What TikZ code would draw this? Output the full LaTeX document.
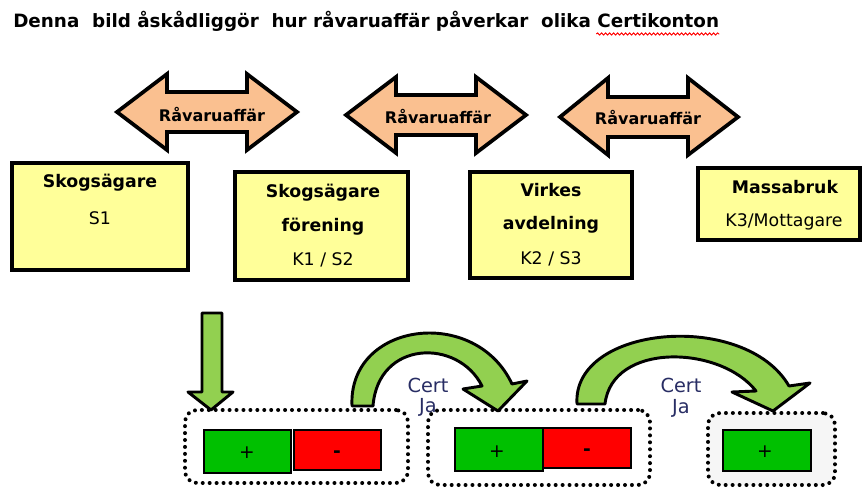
\documentclass[tikz,border=0pt]{standalone}
\usepackage{fontspec}
\setmainfont{DejaVu Sans}
\usetikzlibrary{fit,calc,decorations.pathmorphing}
\definecolor{peach}{RGB}{250,192,144}
\definecolor{boxyellow}{RGB}{255,255,153}
\definecolor{lgreen}{RGB}{146,208,80}
\definecolor{pgreen}{RGB}{0,192,0}
\definecolor{pred}{RGB}{255,0,0}
\definecolor{certcol}{RGB}{40,45,100}
\definecolor{panelgray}{RGB}{246,246,246}
\begin{document}
\begin{tikzpicture}[x=0.75pt,y=-0.75pt,
  dbl/.style={draw=black, line width=2.8pt, fill=peach, line join=miter},
  arrowtxt/.style={font=\fontsize{12}{14}\selectfont\bfseries, inner sep=0pt},
  ybox/.style={draw=black, line width=2.8pt, fill=boxyellow, inner sep=0pt},
  btxt/.style={font=\fontsize{13}{15}\selectfont\bfseries, inner sep=0pt},
  rtxt/.style={font=\fontsize{13}{15}\selectfont, inner sep=0pt},
  garrow/.style={draw=black, line width=2.2pt, fill=lgreen, line join=round},
  dotbox/.style={draw=black, line width=3pt, dash pattern=on 0pt off 5.2pt, line cap=round, rounded corners=9pt, inner sep=0pt},
  gbox/.style={draw=black, line width=1pt, fill=pgreen, inner sep=0pt},
  rbox/.style={draw=black, line width=1pt, fill=pred, inner sep=0pt},
  signtxt/.style={font=\fontsize{14}{16}\selectfont, inner sep=0pt, anchor=base},
  minustxt/.style={font=\fontsize{14}{16}\selectfont\bfseries, inner sep=0pt, anchor=base},
  certtxt/.style={font=\fontsize{14.5}{16}\selectfont, text=certcol, inner sep=0pt}
]
\useasboundingbox (0,0) rectangle (864,488);

% title
\node[anchor=base west, inner sep=0pt, font=\fontsize{13.75}{16}\selectfont\bfseries] (title) at (13,28)
  {Denna\ \ bild\ åskådliggör\ \ hur\ råvaruaffär\ påverkar\ \ olika\ Certikonton};
\draw[red, line width=0.7pt, decorate, decoration={snake, amplitude=0.8pt, segment length=3pt}]
  ($(title.base east)+(-123,6)$) -- ($(title.base east)+(0,6)$);

% double arrows
\draw[dbl, shift={(207,112)}] (-90,0) -- (-40,-38) -- (-40,-20) -- (40,-20) -- (40,-38) -- (90,0) -- (40,38) -- (40,20) -- (-40,20) -- (-40,38) -- cycle;
\node[arrowtxt] (r1) at (212,115) {Råvaruaffär};
\draw[dbl, shift={(436,115)}] (-90,0) -- (-40,-38) -- (-40,-20) -- (40,-20) -- (40,-38) -- (90,0) -- (40,38) -- (40,20) -- (-40,20) -- (-40,38) -- cycle;
\node[arrowtxt] (r2) at (438,117) {Råvaruaffär};
\draw[dbl, shift={(649,117)}] (-89,0) -- (-41,-39) -- (-41,-20) -- (39,-20) -- (39,-39) -- (89,0) -- (39,38) -- (39,20) -- (-41,20) -- (-41,38) -- cycle;
\node[arrowtxt] (r3) at (648,118) {Råvaruaffär};

% yellow boxes
\node[ybox, fit={(12,163) (188,270)}] (b1) {};
\node[btxt] (b1a) at (100,183) {Skogsägare};
\node[rtxt] (b1b) at (100,218) {S1};

\node[ybox, fit={(235,172) (408,280)}] (b2) {};
\node[btxt] (b2a) at (323,193) {Skogsägare};
\node[btxt] (b2b) at (323,227) {förening};
\node[rtxt] (b2c) at (323,260) {K1 / S2};

\node[ybox, fit={(470,172) (632,278)}] (b3) {};
\node[btxt] (b3a) at (551,190) {Virkes};
\node[btxt] (b3b) at (551,225) {avdelning};
\node[rtxt] (b3c) at (551,259) {K2 / S3};

\node[ybox, fit={(698,168) (860,240)}] (b4) {};
\node[btxt] (b4a) at (785,187) {Massabruk};
\node[rtxt] (b4b) at (784,222) {K3/Mottagare};

% dotted panels
\node[dotbox, fit={(185,410) (408,483)}] (p1) {};
\node[dotbox, fit={(428,410) (650,485)}] (p2) {};
\node[dotbox, fill=panelgray, fit={(708,413) (835,485)}] (p3) {};

% account boxes
\node[gbox, fit={(204,430) (291,473)}] (g1) {};
\node[signtxt] (g1t) at (247,458) {+};
\node[rbox, fit={(294,430) (381,470)}] (m1) {};
\node[minustxt] (m1t) at (337,457) {-};
\node[gbox, fit={(455,428) (543,471)}] (g2) {};
\node[signtxt] (g2t) at (497,457) {+};
\node[rbox, fit={(543,428) (631,468)}] (m2) {};
\node[minustxt] (m2t) at (587,455) {-};
\node[gbox, fit={(723,430) (811,471)}] (g3) {};
\node[signtxt] (g3t) at (765,457) {+};

% green down arrow
\draw[garrow] (202,313) -- (222,313) -- (222,392) -- (233,392) -- (211,410) -- (188,392) -- (202,392) -- cycle;

% curved arrows
\draw[garrow] (352,406) .. controls (348,322) and (475,305) .. (512,384) -- (527,381) -- (498,411) -- (463,389) -- (482,386) .. controls (458,338) and (378,340) .. (373,406) -- cycle;
\draw[garrow] (577,404) .. controls (572,325) and (745,310) .. (789,386) -- (810,383) -- (773,411) -- (732,392) -- (756,391) .. controls (720,345) and (612,342) .. (605,404) -- cycle;

% Cert labels
\node[certtxt] (c1) at (428,385) {Cert};
\node[certtxt] (j1) at (428,407) {Ja};
\node[certtxt] (c2) at (681,385) {Cert};
\node[certtxt] (j2) at (681,408) {Ja};
\end{tikzpicture}
\end{document}
